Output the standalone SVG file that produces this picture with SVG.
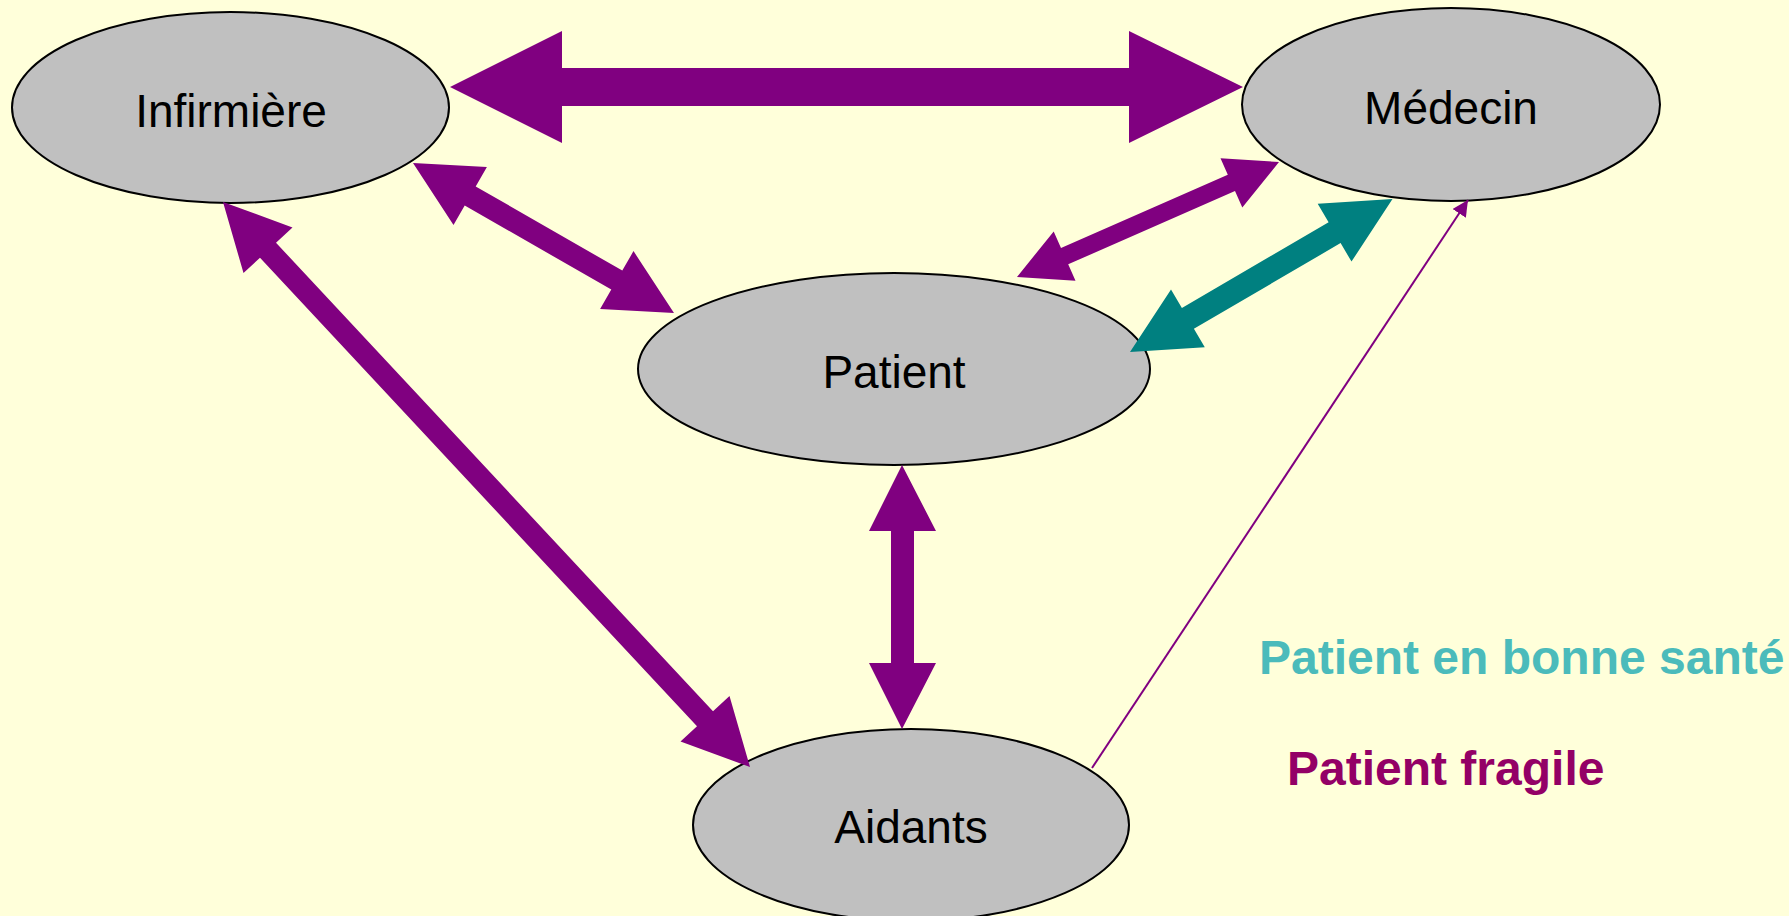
<svg xmlns="http://www.w3.org/2000/svg" width="1789" height="916" viewBox="0 0 1789 916">
<style>
.node ellipse{fill:#C0C0C0;stroke:#000;stroke-width:2}
.node text{font-family:"Liberation Sans",Arial,sans-serif;font-size:46px;fill:#000;text-anchor:middle}
.p{fill:#800080}
.t{fill:#008080}
.legend{font-family:"Liberation Sans",Arial,sans-serif;font-size:48px;font-weight:bold}
</style>
<defs>
<marker id="sm" viewBox="0 0 10 10" refX="10" refY="5" markerWidth="16" markerHeight="16" markerUnits="userSpaceOnUse" orient="auto"><path d="M0,0L10,5L0,10z" fill="#800080"/></marker>
</defs>
<rect width="1789" height="916" fill="#FFFFDA"/>
<g id="node-infirmiere" class="node"><ellipse cx="230.5" cy="107.5" rx="218.5" ry="95.5"/><text x="231" y="127">Infirmière</text></g>
<g id="node-medecin" class="node"><ellipse cx="1451" cy="104.5" rx="209" ry="96.5"/><text x="1451" y="124">Médecin</text></g>
<g id="node-patient" class="node"><ellipse cx="894" cy="369" rx="256" ry="96"/><text x="894" y="388">Patient</text></g>
<g id="node-aidants" class="node"><ellipse cx="911" cy="825" rx="218" ry="96"/><text x="911" y="843">Aidants</text></g>
<g id="connectors">
<polygon class="p" points="450,87 562,31 562,68 1129,68 1129,31 1243,87 1129,143 1129,106 562,106 562,143"/>
<polygon class="p" points="902,465 936,531 914,531 914,663 936,663 902,729 869,663 891,663 891,531 869,531"/>
<polygon class="p" points="413,163 486.9,166.9 475.7,186.4 622.3,270.6 633.5,251.1 674,313 600.1,309.1 611.3,289.6 464.7,205.4 453.5,224.9"/>
<polygon class="p" points="223,202 292.5,227.4 276,242.7 713,711.3 729.5,696 750,767 680.5,741.6 697,726.3 260,257.7 243.5,273"/>
<polygon class="p" points="1017,277 1053.7,231.4 1061,247.9 1227.8,174.7 1220.5,158.2 1279,162 1242.3,207.6 1235,191.1 1068.2,264.3 1075.5,280.8"/>
<polygon class="t" points="1130,352 1171,289.4 1181.9,307.9 1328.6,222.3 1317.7,203.8 1392.5,199 1351.5,261.6 1340.6,243.1 1193.9,328.7 1204.8,347.2"/>
<line x1="1092" y1="768" x2="1468" y2="200" stroke="#800080" stroke-width="2" marker-end="url(#sm)"/>
</g>
<text class="legend" x="1259" y="674" fill="#4BBBBB">Patient en bonne santé</text>
<text class="legend" x="1287" y="785" fill="#930066">Patient fragile</text>
</svg>
